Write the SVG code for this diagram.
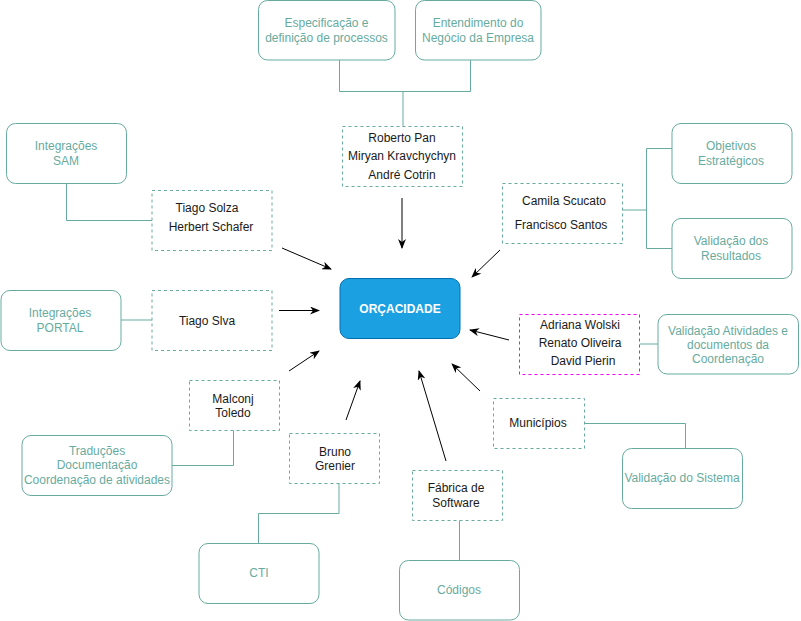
<svg xmlns="http://www.w3.org/2000/svg" width="801" height="621" viewBox="0 0 801 621">
<defs>
<style>
.g{fill:#fff;stroke:#67AB9F;stroke-width:1}
.d{fill:#fff;stroke:#67AB9F;stroke-width:1;stroke-dasharray:3 3}
.m{fill:#fff;stroke:#FF00FF;stroke-width:1;stroke-dasharray:3 3}
.gt{font-family:"Liberation Sans",Arial,sans-serif;font-size:12px;fill:#67AB9F;text-anchor:middle}
.nt{font-family:"Liberation Sans",Arial,sans-serif;font-size:12px;fill:#1a1a1a;text-anchor:middle}
.ln{fill:none;stroke:#67AB9F;stroke-width:1}
.ar{fill:none;stroke:#000;stroke-width:1;marker-end:url(#a)}
</style>
<marker id="a" markerUnits="userSpaceOnUse" markerWidth="10" markerHeight="8" refX="9" refY="4" orient="auto" viewBox="0 0 10 8">
<path d="M0,0 L10,4 L0,8 L3,4 z" fill="#000"/>
</marker>
</defs>
<rect width="801" height="621" fill="#fff"/>
<g id="connectors">
<path class="ln" d="M339.5,60 V91.5 H470.5 V60 M403,91.5 V126.5"/>
<path class="ln" d="M66.5,183.5 V220.5 H152"/>
<path class="ln" d="M121,320 H152"/>
<path class="ln" d="M619,210 H646.5 M646.5,148.5 V248.5 M646.5,148.5 H672 M646.5,248.5 H672"/>
<path class="ln" d="M639.5,344 H658"/>
<path class="ln" d="M172,465.5 H233.5 V430.5"/>
<path class="ln" d="M339,483.5 V513.5 H258.5 V543.5"/>
<path class="ln" d="M582.5,423.5 H685.5 V448.5"/>
<path class="ln" d="M459.5,520.5 V560.5"/>
<path class="ar" d="M402,198 V248"/>
<path class="ar" d="M282,248 L331,269"/>
<path class="ar" d="M279,310.5 H319"/>
<path class="ar" d="M289,371 L319,351"/>
<path class="ar" d="M346,420 L360,381"/>
<path class="ar" d="M446,461 L419,371"/>
<path class="ar" d="M480,391 L452,364"/>
<path class="ar" d="M509,340 L470,330"/>
<path class="ar" d="M500,250 L472,277"/>
</g>
<g id="n-center">
<rect x="340" y="278.5" width="120" height="60" rx="9" fill="#1BA1E2" stroke="#006EAF"/>
<text x="400" y="312.5" font-family="Liberation Sans,Arial,sans-serif" font-size="12" font-weight="bold" fill="#fff" text-anchor="middle">ORÇACIDADE</text>
</g>
<g id="n-espec">
<rect class="g" x="258.5" y="0.5" width="136.5" height="59.5" rx="9"/>
<text class="gt" x="326.5" y="27">Especificação e</text>
<text class="gt" x="326.5" y="41.5">definição de processos</text>
</g>
<g id="n-entend">
<rect class="g" x="415.5" y="0.5" width="125.5" height="59.5" rx="9"/>
<text class="gt" x="478" y="27">Entendimento do</text>
<text class="gt" x="478" y="41.5">Negócio da Empresa</text>
</g>
<g id="n-roberto">
<rect class="d" x="342.5" y="126.5" width="120" height="60"/>
<text class="nt" x="402" y="142">Roberto Pan</text>
<text class="nt" x="402" y="159.5">Miryan Kravchychyn</text>
<text class="nt" x="402" y="178.5">André Cotrin</text>
</g>
<g id="n-sam">
<rect class="g" x="6.5" y="123.5" width="120" height="60" rx="9"/>
<text class="gt" x="66" y="150">Integrações</text>
<text class="gt" x="66" y="165">SAM</text>
</g>
<g id="n-solza">
<rect class="d" x="152" y="190.5" width="120" height="60"/>
<text class="nt" x="207" y="212">Tiago Solza</text>
<text class="nt" x="211" y="231">Herbert Schafer</text>
</g>
<g id="n-portal">
<rect class="g" x="1" y="290.5" width="120" height="60" rx="9"/>
<text class="gt" x="60" y="317">Integrações</text>
<text class="gt" x="60" y="332">PORTAL</text>
</g>
<g id="n-slva">
<rect class="d" x="152" y="290.5" width="120" height="60"/>
<text class="nt" x="207" y="324.5">Tiago Slva</text>
</g>
<g id="n-camila">
<rect class="d" x="502.5" y="183.5" width="120" height="60"/>
<text class="nt" x="564" y="205">Camila Scucato</text>
<text class="nt" x="561" y="229">Francisco Santos</text>
</g>
<g id="n-objetivos">
<rect class="g" x="672" y="123.5" width="120" height="60" rx="9"/>
<text class="gt" x="731" y="150">Objetivos</text>
<text class="gt" x="731" y="165">Estratégicos</text>
</g>
<g id="n-validres">
<rect class="g" x="672" y="218.5" width="120" height="60" rx="9"/>
<text class="gt" x="731" y="245">Validação dos</text>
<text class="gt" x="731" y="260">Resultados</text>
</g>
<g id="n-adriana">
<rect class="m" x="519.5" y="314.5" width="120" height="60"/>
<text class="nt" x="580" y="328.5">Adriana Wolski</text>
<text class="nt" x="580" y="347">Renato Oliveira</text>
<text class="nt" x="583" y="364.5">David Pierin</text>
</g>
<g id="n-validativ">
<rect class="g" x="658" y="314.5" width="140.5" height="59.5" rx="9"/>
<text class="gt" x="728" y="334.5">Validação Atividades e</text>
<text class="gt" x="728" y="348.5">documentos da</text>
<text class="gt" x="728" y="363">Coordenação</text>
</g>
<g id="n-malconj">
<rect class="d" x="189.5" y="380.5" width="90" height="50"/>
<text class="nt" x="233" y="402.5">Malconj</text>
<text class="nt" x="233" y="417">Toledo</text>
</g>
<g id="n-traducoes">
<rect class="g" x="22" y="435.5" width="150" height="60" rx="9"/>
<text class="gt" x="97" y="455">Traduções</text>
<text class="gt" x="97" y="469">Documentação</text>
<text class="gt" x="97" y="483.5">Coordenação de atividades</text>
</g>
<g id="n-bruno">
<rect class="d" x="289.5" y="433.5" width="90" height="50"/>
<text class="nt" x="335" y="455.5">Bruno</text>
<text class="nt" x="335" y="470">Grenier</text>
</g>
<g id="n-cti">
<rect class="g" x="199" y="543.5" width="120" height="60" rx="9"/>
<text class="gt" x="259" y="577">CTI</text>
</g>
<g id="n-municipios">
<rect class="d" x="493.5" y="398.5" width="91" height="50"/>
<text class="nt" x="538" y="426.5">Municípios</text>
</g>
<g id="n-validsis">
<rect class="g" x="622.5" y="448.5" width="120" height="60" rx="9"/>
<text class="gt" x="682" y="482">Validação do Sistema</text>
</g>
<g id="n-fabrica">
<rect class="d" x="412.5" y="470.5" width="90" height="50"/>
<text class="nt" x="456" y="492">Fábrica de</text>
<text class="nt" x="456" y="506.5">Software</text>
</g>
<g id="n-codigos">
<rect class="g" x="399.5" y="560.5" width="120" height="59.5" rx="9"/>
<text class="gt" x="459" y="594">Códigos</text>
</g>
</svg>
